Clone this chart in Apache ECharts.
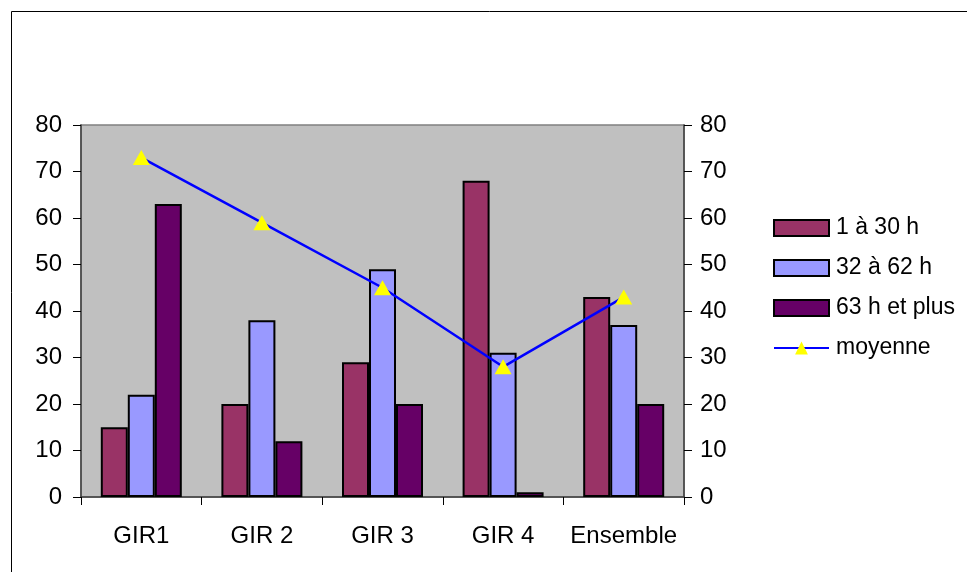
<!DOCTYPE html>
<html>
<head>
<meta charset="utf-8">
<script src="https://cdn.jsdelivr.net/npm/echarts@6/dist/echarts.min.js"></script>
<style>
  html, body { margin: 0; padding: 0; background: #ffffff; }
  #chart { width: 967px; height: 572px; }
</style>
</head>
<body>
<div id="chart"></div>
<script>
// Categories and series values
const categories = ['GIR1', 'GIR 2', 'GIR 3', 'GIR 4', 'Ensemble'];
const seriesNames = ['1 à 30 h', '32 à 62 h', '63 h et plus', 'moyenne'];
const heures1a30 = [15, 20, 29, 68, 43];
const heures32a62 = [22, 38, 49, 31, 37];
const heures63plus = [63, 12, 20, 1, 20];
const moyenne = [73, 59, 45, 28, 43];
const yTicks = [0, 10, 20, 30, 40, 50, 60, 70, 80];

const font = 'Liberation Sans, Arial, sans-serif';
const chart = echarts.init(document.getElementById('chart'), null, { renderer: 'canvas' });

const valueAxis = (pos, margin) => ({
  type: 'value',
  position: pos,
  min: yTicks[0],
  max: yTicks[yTicks.length - 1],
  interval: yTicks[1] - yTicks[0],
  axisLine: { show: true, lineStyle: { color: '#404040', width: 1.5 } },
  axisTick: { show: true, inside: false, length: 8, lineStyle: { color: '#000000', width: 1 } },
  axisLabel: { fontFamily: font, fontSize: 24, color: '#000000', margin: margin },
  splitLine: { show: false }
});

const barStyle = (color) => ({ color: color, borderColor: '#000000', borderWidth: 2 });

chart.setOption({
  animation: false,
  backgroundColor: '#ffffff',
  graphic: [{
    type: 'rect',
    shape: { x: 11.5, y: 11.5, width: 970, height: 580 },
    style: { fill: 'none', stroke: '#000000', lineWidth: 1 },
    z: -10
  }],
  grid: {
    left: 81, right: 283, top: 125, bottom: 75,
    show: true, backgroundColor: '#C0C0C0', borderColor: '#808080', borderWidth: 1.5
  },
  legend: {
    orient: 'vertical',
    left: 773, top: 216, padding: 0,
    itemWidth: 55, itemHeight: 16, itemGap: 16,
    textStyle: { fontFamily: font, fontSize: 23, lineHeight: 24, color: '#000000', padding: [0, 0, 0, 2] },
    data: [
      { name: seriesNames[0], icon: 'rect' },
      { name: seriesNames[1], icon: 'rect' },
      { name: seriesNames[2], icon: 'rect' },
      { name: seriesNames[3] }
    ]
  },
  xAxis: {
    type: 'category',
    data: categories,
    boundaryGap: true,
    axisLine: { show: true, lineStyle: { color: '#404040', width: 1.5 } },
    axisTick: { show: true, inside: false, length: 8, alignWithLabel: false, lineStyle: { color: '#000000' } },
    axisLabel: { fontFamily: font, fontSize: 24, color: '#000000', margin: 27, interval: 0 }
  },
  yAxis: [valueAxis('left', 19), valueAxis('right', 16)],
  series: [
    { name: seriesNames[0], type: 'bar', data: heures1a30, itemStyle: barStyle('#993366'),
      barWidth: 27, barGap: '0%' },
    { name: seriesNames[1], type: 'bar', data: heures32a62, itemStyle: barStyle('#9999FF'),
      barWidth: 27, barGap: '0%' },
    { name: seriesNames[2], type: 'bar', data: heures63plus, itemStyle: barStyle('#660066'),
      barWidth: 27, barGap: '0%' },
    { name: seriesNames[3], type: 'line', data: moyenne, yAxisIndex: 0,
      lineStyle: { color: '#0000FF', width: 2.5 },
      itemStyle: { color: '#FFFF00', borderWidth: 0 },
      symbol: 'triangle', symbolSize: [17, 15], showAllSymbol: true, z: 5 }
  ]
});
</script>
</body>
</html>
